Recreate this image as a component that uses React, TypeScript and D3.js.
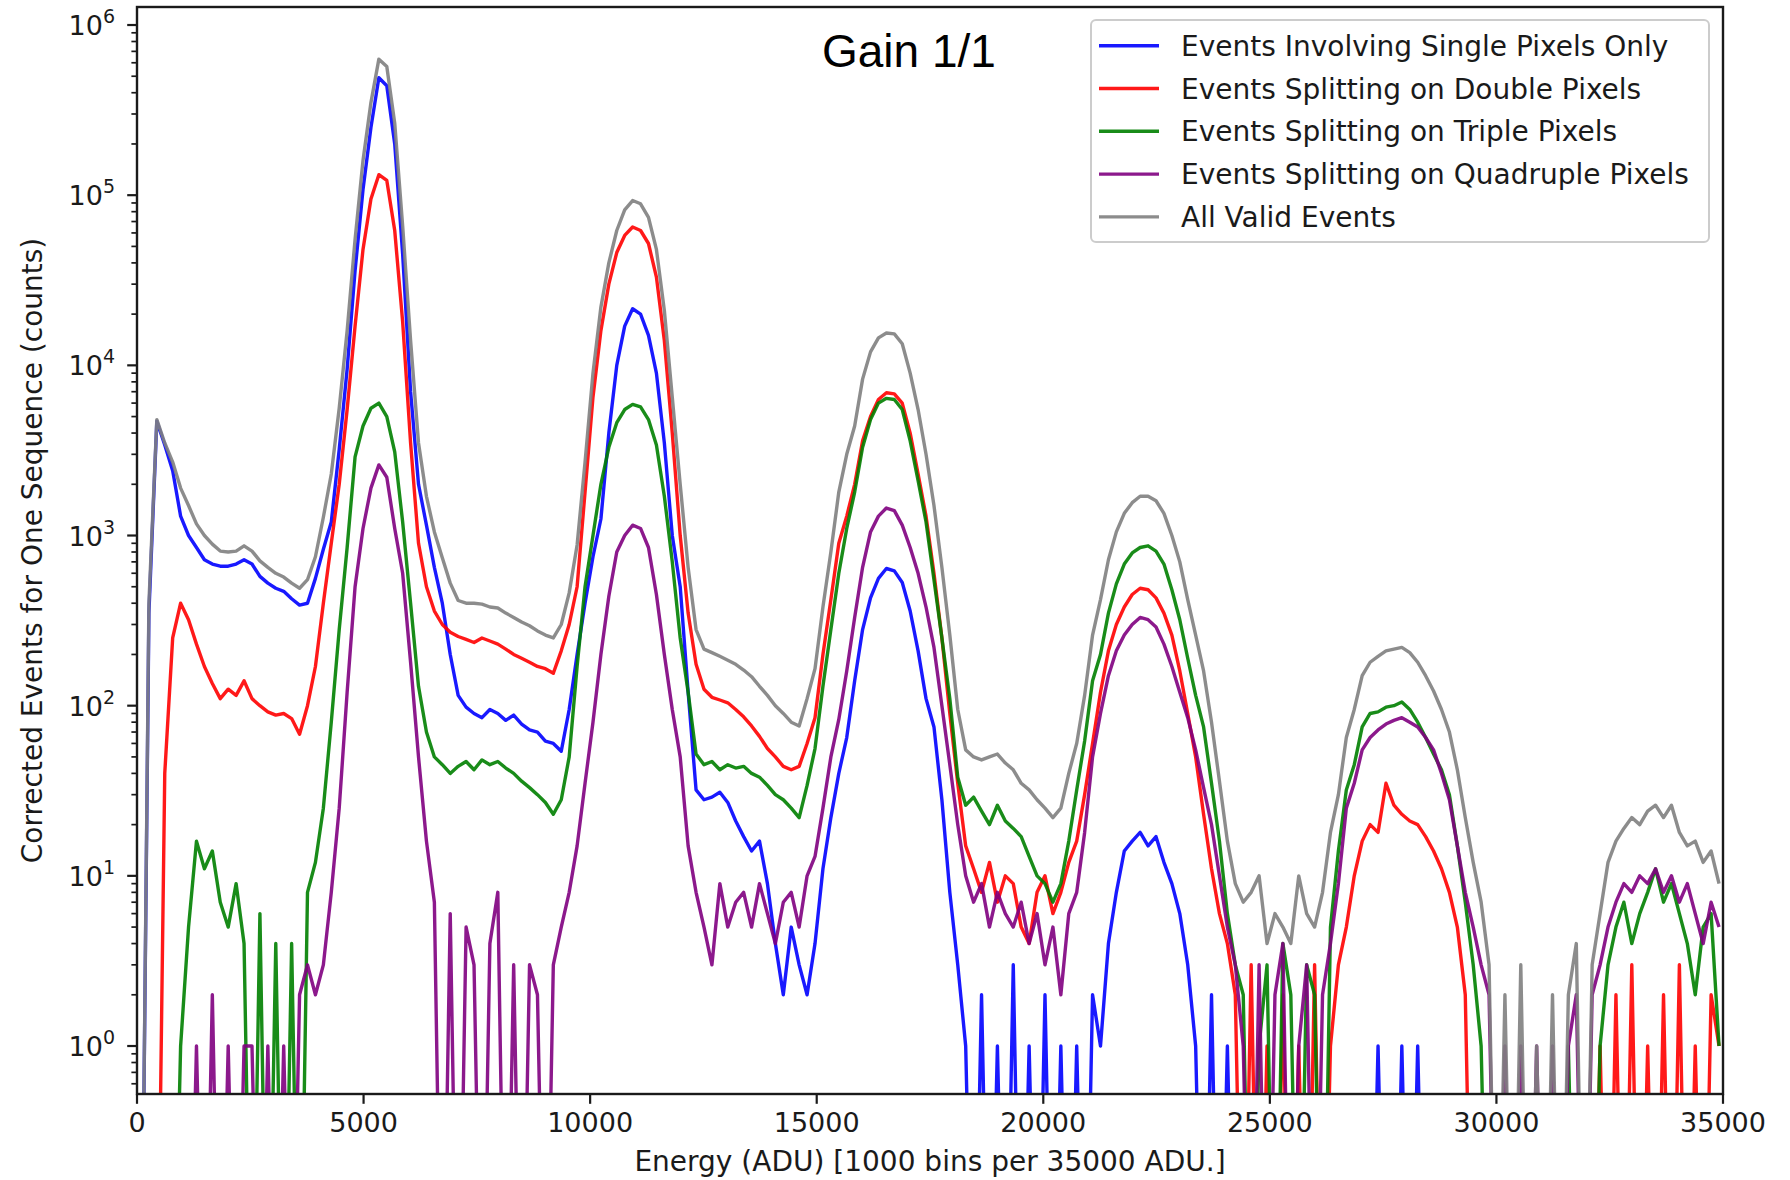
import * as d3 from "d3";
import { useEffect, useRef } from "react";

// 200 bins of 175 ADU (0 - 35000 ADU), counts
const binWidth = 175;
const xTicks = [0, 5000, 10000, 15000, 20000, 25000, 30000, 35000];
const yTickExponents = [0, 1, 2, 3, 4, 5, 6];
const seriesLabels = [
  "Events Involving Single Pixels Only",
  "Events Splitting on Double Pixels",
  "Events Splitting on Triple Pixels",
  "Events Splitting on Quadruple Pixels",
  "All Valid Events",
];
const seriesColors = ["#0000ff", "#ff0000", "#008000", "#800080", "#808080"];

const singlePixels = [
  0, 350, 4700, 3400, 2400, 1300, 1000, 850, 720, 680,
  660, 660, 680, 720, 680, 575, 525, 490, 470, 425,
  390, 400, 560, 830, 1200, 3200, 9500, 36000, 108000, 250000,
  490000, 440000, 200000, 45000, 7000, 2000, 1150, 650, 400, 200,
  115, 98, 90, 85, 95, 90, 82, 88, 78, 72,
  70, 62, 60, 54, 95, 200, 400, 750, 1250, 4000,
  10000, 17000, 21500, 20000, 15000, 9000, 3500, 1000, 500, 120,
  32, 28, 29, 31, 27, 21, 17, 14, 16, 9,
  4, 2, 5, 3, 2, 4, 11, 22, 40, 65,
  140, 280, 430, 560, 640, 620, 530, 360, 210, 110,
  75, 28, 8, 3, 1, 0, 2, 0, 1, 0,
  3, 0, 1, 0, 2, 0, 1, 0, 1, 0,
  2, 1, 4, 8, 14, 16, 18, 15, 17, 12,
  9, 6, 3, 1, 0, 2, 0, 1, 0, 0,
  0, 0, 0, 0, 0, 0, 0, 0, 0, 0,
  0, 0, 0, 0, 0, 0, 1, 0, 0, 1,
  0, 1, 0, 0, 0, 0, 0, 0, 0, 0,
  0, 0, 0, 0, 0, 0, 0, 0, 0, 0,
  0, 0, 0, 0, 0, 0, 0, 0, 0, 0,
  0, 0, 0, 0, 0, 0, 0, 0, 0, 0,
];

const doublePixels = [
  0, 0, 0, 40, 250, 400, 320, 230, 170, 135,
  110, 125, 115, 140, 110, 100, 92, 88, 90, 84,
  68, 100, 170, 400, 900, 2000, 5500, 17000, 48000, 95000,
  132000, 122000, 62000, 18000, 3500, 900, 500, 360, 300, 270,
  255, 245, 235, 250, 240, 230, 215, 200, 190, 180,
  170, 165, 155, 210, 300, 500, 1800, 6500, 16000, 30000,
  46000, 58000, 65000, 62000, 52000, 33000, 14000, 4000, 1000, 350,
  175, 125, 112, 108, 104, 95, 86, 76, 66, 56,
  50, 44, 42, 44, 60, 85, 200, 420, 900, 1300,
  2000, 3600, 5000, 6300, 6900, 6800, 6000, 4000, 2300, 1300,
  600, 250, 90, 35, 15, 11, 8, 12, 7, 10,
  9, 5, 4, 8, 10, 6, 8, 12, 16, 30,
  60, 120, 210, 300, 380, 450, 490, 480, 430, 350,
  260, 160, 90, 50, 23, 11, 6, 4, 2, 0,
  3, 0, 1, 0, 2, 0, 1, 0, 3, 0,
  1, 3, 5, 10, 16, 20, 18, 35, 26, 23,
  21, 20, 17, 14, 11, 8, 5, 2, 0, 0,
  0, 0, 0, 0, 0, 0, 0, 0, 0, 0,
  0, 0, 0, 0, 1, 0, 2, 0, 3, 0,
  1, 0, 2, 0, 3, 0, 1, 0, 2, 1,
];

const triplePixels = [
  0, 0, 0, 0, 0, 1, 5, 16, 11, 14,
  7, 5, 9, 4, 0, 6, 0, 4, 0, 4,
  0, 8, 12, 25, 80, 280, 850, 2900, 4400, 5600,
  6000, 5000, 3100, 1200, 400, 130, 70, 50, 45, 40,
  44, 47, 42, 48, 45, 47, 43, 40, 36, 33,
  30, 27, 23, 28, 50, 170, 500, 1000, 2000, 3300,
  4600, 5500, 5900, 5700, 4800, 3400, 1700, 700, 250, 120,
  52, 45, 47, 42, 45, 43, 44, 40, 38, 34,
  30, 28, 25, 22, 34, 56, 130, 280, 600, 1100,
  1800, 3300, 4800, 6000, 6400, 6300, 5500, 3600, 2100, 1200,
  550, 250, 110, 38, 26, 29, 24, 20, 26, 21,
  19, 17, 13, 10, 9, 7, 9, 16, 32, 62,
  140, 200, 350, 520, 680, 790, 850, 870, 810, 680,
  480, 320, 190, 115, 75, 35, 16, 6, 3, 2,
  0, 1, 3, 0, 4, 2, 0, 3, 2, 0,
  5, 14, 32, 45, 75, 90, 92, 98, 100, 105,
  95, 80, 65, 52, 42, 30, 15, 7, 3, 1,
  0, 0, 0, 0, 0, 0, 0, 0, 0, 0,
  1, 0, 0, 0, 1, 3, 5, 7, 4, 6,
  8, 11, 7, 9, 6, 4, 2, 5, 6, 1,
];

const quadruplePixels = [
  0, 0, 0, 0, 0, 0, 0, 1, 0, 2,
  0, 1, 0, 1, 1, 0, 1, 0, 1, 0,
  2, 3, 2, 3, 8, 25, 120, 500, 1100, 1900,
  2600, 2200, 1100, 600, 180, 50, 16, 7, 0, 6,
  0, 5, 3, 0, 4, 8, 0, 3, 0, 3,
  2, 0, 3, 5, 8, 15, 35, 80, 200, 440,
  800, 1000, 1150, 1100, 850, 450, 200, 95, 50, 15,
  8, 5, 3, 9, 5, 7, 8, 5, 9, 6,
  4, 7, 8, 5, 10, 13, 25, 50, 83, 160,
  330, 650, 1050, 1300, 1450, 1400, 1150, 850, 600, 380,
  220, 100, 45, 20, 10, 7, 9, 5, 8, 6,
  5, 7, 4, 6, 3, 5, 2, 6, 8, 18,
  50, 90, 150, 210, 260, 300, 330, 320, 290, 230,
  170, 120, 85, 55, 33, 20, 10, 5, 3, 1,
  0, 3, 0, 2, 4, 0, 1, 3, 0, 2,
  4, 9, 25, 35, 55, 65, 72, 78, 82, 85,
  80, 75, 65, 55, 40, 28, 15, 8, 5, 3,
  2, 0, 1, 0, 1, 0, 1, 0, 1, 0,
  1, 2, 0, 2, 3, 5, 7, 9, 8, 10,
  9, 11, 8, 10, 7, 9, 6, 4, 7, 5,
];

const allValid = [
  0, 400, 4800, 3500, 2700, 1900, 1500, 1170, 1000, 890,
  810, 800, 810, 870, 810, 710, 650, 600, 570, 525,
  490, 550, 750, 1280, 2300, 5600, 16000, 55000, 160000, 350000,
  630000, 570000, 265000, 66000, 14000, 3500, 1700, 1050, 740, 525,
  415, 400, 400, 395, 380, 375, 350, 330, 310, 295,
  275, 260, 250, 300, 460, 880, 2700, 9000, 22000, 40000,
  62000, 82000, 93000, 89000, 74000, 48000, 21000, 6500, 2000, 650,
  280, 215, 205, 195, 185, 175, 162, 148, 130, 115,
  100, 90, 80, 76, 110, 165, 380, 800, 1800, 3000,
  4400, 8300, 12000, 14500, 15500, 15300, 13400, 9000, 5500, 3000,
  1500, 650, 260, 95, 55, 50, 48, 50, 52, 46,
  42, 35, 32, 28, 25, 22, 25, 40, 60, 115,
  260, 420, 720, 1050, 1350, 1560, 1700, 1700, 1600, 1350,
  1000, 700, 420, 260, 160, 80, 36, 16, 9, 7,
  8, 10, 4, 6, 5, 4, 10, 6, 5, 8,
  18, 30, 65, 95, 150, 180, 195, 210, 215, 220,
  205, 180, 150, 122, 95, 70, 42, 22, 12, 7,
  3, 0, 2, 0, 3, 0, 1, 0, 2, 0,
  2, 4, 0, 3, 6, 12, 16, 19, 22, 20,
  24, 26, 22, 26, 18, 15, 16, 12, 14, 9,
];

const allSeries = [singlePixels, doublePixels, triplePixels, quadruplePixels, allValid];

export default function App() {
  const svgRef = useRef<SVGSVGElement>(null);

  const width = 1790;
  const height = 1180;
  const margin = { left: 137, right: 67, top: 7, bottom: 86 };
  const font = "DejaVu Sans, sans-serif";
  const ink = "#1a1a1a";

  useEffect(() => {
    const svg = d3.select(svgRef.current);
    svg.selectAll("*").remove();

    const x = d3.scaleLinear().domain([0, 35000]).range([margin.left, width - margin.right]);
    const y = d3.scaleLog().domain([0.5224, 1.276e6]).range([height - margin.bottom, margin.top]);
    const [x0, x1] = x.range();
    const [yb, yt] = y.range();

    svg.append("rect").attr("width", width).attr("height", height).attr("fill", "white");

    svg.append("defs").append("clipPath").attr("id", "plot-clip")
      .append("rect").attr("x", x0).attr("y", yt).attr("width", x1 - x0).attr("height", yb - yt);

    // histogram lines, empty bins fall off the bottom like matplotlib's log clip
    const line = d3.line<number>()
      .x((_, i) => x((i + 0.5) * binWidth))
      .y(d => y(d > 0 ? d : 0.01));

    const lines = svg.append("g").attr("clip-path", "url(#plot-clip)");
    allSeries.forEach((s, k) => {
      lines.append("path")
        .attr("d", line(s))
        .attr("fill", "none")
        .attr("stroke", seriesColors[k])
        .attr("stroke-opacity", 0.9)
        .attr("stroke-width", 3.4)
        .attr("stroke-linejoin", "round");
    });

    // y ticks (log): minor then major
    const minor: number[] = [];
    for (let e = -1; e <= 6; e++) {
      for (let m = 2; m <= 9; m++) {
        const v = m * Math.pow(10, e);
        if (v >= y.domain()[0] && v <= y.domain()[1]) minor.push(v);
      }
    }
    svg.append("g").selectAll("line").data(minor).join("line")
      .attr("x1", x0 - 5.6).attr("x2", x0)
      .attr("y1", d => y(d)).attr("y2", d => y(d))
      .attr("stroke", ink).attr("stroke-width", 1.7);

    const yMajor = svg.append("g").selectAll("g").data(yTickExponents).join("g")
      .attr("transform", d => `translate(0,${y(Math.pow(10, d))})`);
    yMajor.append("line")
      .attr("x1", x0 - 9.8).attr("x2", x0)
      .attr("stroke", ink).attr("stroke-width", 2.2);
    const yLab = yMajor.append("text")
      .attr("x", x0 - 22).attr("y", 10)
      .attr("text-anchor", "end")
      .attr("font-family", font).attr("font-size", 27).attr("fill", ink);
    yLab.append("tspan").text("10");
    yLab.append("tspan").attr("dy", -12).attr("font-size", 19).text(d => String(d));

    // x ticks
    const xMajor = svg.append("g").selectAll("g").data(xTicks).join("g")
      .attr("transform", d => `translate(${x(d)},${yb})`);
    xMajor.append("line").attr("y2", 9.8).attr("stroke", ink).attr("stroke-width", 2.2);
    xMajor.append("text")
      .attr("y", 38).attr("text-anchor", "middle")
      .attr("font-family", font).attr("font-size", 27).attr("fill", ink)
      .text(d => String(d));

    // frame
    svg.append("rect")
      .attr("x", x0).attr("y", yt).attr("width", x1 - x0).attr("height", yb - yt)
      .attr("fill", "none").attr("stroke", ink).attr("stroke-width", 2.4);

    // axis labels
    svg.append("text")
      .attr("x", (x0 + x1) / 2).attr("y", 1171)
      .attr("text-anchor", "middle")
      .attr("font-family", font).attr("font-size", 28).attr("fill", ink)
      .text("Energy (ADU) [1000 bins per 35000 ADU.]");
    svg.append("text")
      .attr("transform", `translate(42,${(yt + yb) / 2}) rotate(-90)`)
      .attr("text-anchor", "middle")
      .attr("font-family", font).attr("font-size", 28).attr("fill", ink)
      .text("Corrected Events for One Sequence (counts)");

    // annotation
    svg.append("text")
      .attr("x", 822).attr("y", 67)
      .attr("font-family", "Liberation Sans, Arial, sans-serif").attr("font-size", 46)
      .attr("fill", "black")
      .text("Gain 1/1");

    // legend
    const legend = svg.append("g");
    legend.append("rect")
      .attr("x", 1091).attr("y", 20).attr("width", 618).attr("height", 222)
      .attr("rx", 5)
      .attr("fill", "white").attr("fill-opacity", 0.8)
      .attr("stroke", "#cccccc").attr("stroke-width", 2);
    const rows = legend.selectAll("g.row").data(seriesLabels).join("g")
      .attr("class", "row")
      .attr("transform", (_, i) => `translate(1099,${45.7 + i * 42.8})`);
    rows.append("line")
      .attr("x2", 60)
      .attr("stroke", (_, i) => seriesColors[i]).attr("stroke-opacity", 0.9)
      .attr("stroke-width", 3.4);
    rows.append("text")
      .attr("x", 82).attr("y", 10)
      .attr("font-family", font).attr("font-size", 28).attr("fill", ink)
      .text(d => d);
  }, []);

  return (
    <svg
      ref={svgRef}
      width={width}
      height={height}
      style={{ position: "absolute", left: 0, top: 0, display: "block" }}
      xmlns="http://www.w3.org/2000/svg"
    />
  );
}
